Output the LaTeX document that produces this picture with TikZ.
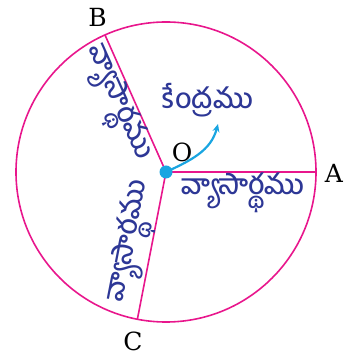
\documentclass[tikz,border=0pt]{standalone}
\usepackage{fontspec}
\newfontfamily\te[Script=Telugu,UprightFont=* Medium]{Hind Guntur}
\newfontfamily\lat{DejaVu Serif}
\usetikzlibrary{arrows.meta,calc}
\definecolor{rim}{RGB}{232,22,140}
\definecolor{ink}{RGB}{45,55,150}
\definecolor{dotc}{RGB}{25,165,225}
\tikzset{
  rimline/.style={draw=rim, line width=1.6pt},
  tel/.style={text=ink, font=\te\fontsize{28}{30}\selectfont, inner sep=0pt},
  lbl/.style={font=\lat\fontsize{25}{28}\selectfont, inner sep=0pt}
}
\begin{document}
\begin{tikzpicture}[x=1pt,y=1pt]
\useasboundingbox (0,0) rectangle (347,355);
\coordinate (O) at (166,183);
\draw[rimline] (O) circle (150);
\coordinate (A) at (316,183);
\coordinate (B) at ($(O)+(114:150)$);
\coordinate (C) at ($(O)+(259:150)$);
\draw[rimline] (O) -- (A);
\draw[rimline] (O) -- (B);
\draw[rimline] (O) -- (C);
\draw[dotc, line width=2.2pt, -{Stealth[length=8pt,width=7pt]}] (O) to[out=25,in=-105] (218,231);
\fill[dotc] (O) circle (6.5);
\node[lbl] (la) at (334,182) {A};
\node[lbl] (lb) at (97.5,337.5) {B};
\node[lbl] (lc) at (133,14) {C};
\node[lbl] (lo) at (182,203) {O};
\node[tel] (cen) at (208,255) {కేంద్రము};
\node[tel] (ra) at (243,162) {వ్యాసార్థము};
\node[tel, rotate=-66] (rb) at (115,251) {వ్యాసార్థము};
\node[tel, rotate=79] (rc) at (133,113) {వ్యాసార్థము};
\end{tikzpicture}
\end{document}
